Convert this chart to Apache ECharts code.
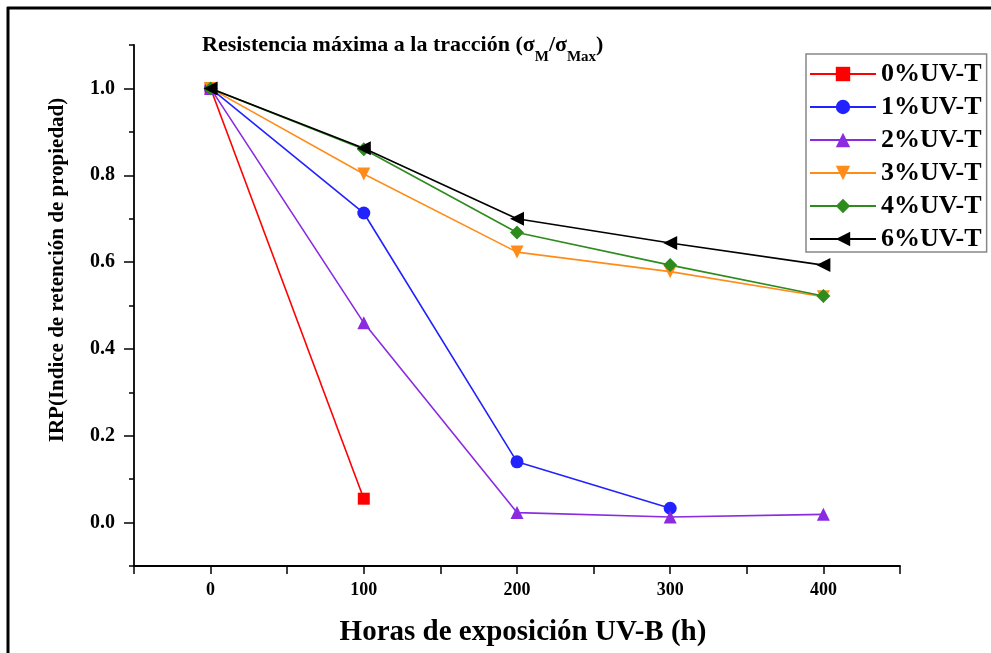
<!DOCTYPE html>
<html>
<head>
<meta charset="utf-8">
<script src="https://cdn.jsdelivr.net/npm/echarts@6/dist/echarts.min.js"></script>
<style>html,body{margin:0;padding:0;background:#fff;}#c{width:991px;height:653px;}</style>
</head>
<body>
<div id="c"></div>
<script>
var hours = [0, 100, 200, 300, 400];
var seriesNames = ['0%UV-T', '1%UV-T', '2%UV-T', '3%UV-T', '4%UV-T', '6%UV-T'];
var uv0 = [1.0, 0.055];
var uv1 = [1.0, 0.713, 0.140, 0.033];
var uv2 = [1.0, 0.460, 0.023, 0.013, 0.019];
var uv3 = [1.0, 0.803, 0.623, 0.578, 0.520];
var uv4 = [1.0, 0.860, 0.668, 0.593, 0.522];
var uv6 = [1.0, 0.862, 0.700, 0.644, 0.593];
var yTicks = [0.0, 0.2, 0.4, 0.6, 0.8, 1.0];
var yMinorTicks = [-0.1, 0.1, 0.3, 0.5, 0.7, 0.9, 1.1];
var xTicks = [0, 100, 200, 300, 400];

var allValues = [uv0, uv1, uv2, uv3, uv4, uv6];
var colors = ['#ff0000', '#2222ff', '#8a2be2', '#ff8c1a', '#2e8b1e', '#000000'];
var symbols = ['rect', 'circle', 'triangle', 'triangle', 'diamond', 'triangle'];
var rotates = [0, 0, 0, 180, 0, 90];
var sizes = [12, 13, 13, 13, 14, 14];

function pairs(vals) { return vals.map(function (v, i) { return [hours[i], v]; }); }

var FONT = '"Liberation Serif", "Times New Roman", serif';
var series = seriesNames.map(function (n, i) {
  return {
    name: n, type: 'line', data: pairs(allValues[i]),
    symbol: symbols[i], symbolSize: sizes[i], symbolRotate: rotates[i],
    lineStyle: { color: colors[i], width: 1.6 },
    itemStyle: { color: colors[i] },
    emphasis: { disabled: true }, animation: false
  };
});

var chart = echarts.init(document.getElementById('c'), null, { renderer: 'canvas' });
chart.setOption({
  animation: false,
  backgroundColor: '#ffffff',
  title: {
    text: 'Resistencia máxima a la tracción (σ{s|M}/σ{s|Max})',
    left: 197, top: 27,
    textStyle: {
      fontFamily: FONT, fontWeight: 'bold', fontSize: 22, color: '#000', lineHeight: 27,
      rich: { s: { fontFamily: FONT, fontWeight: 'bold', fontSize: 15, color: '#000', verticalAlign: 'bottom', lineHeight: 15, padding: [0, 0, -6, 0] } }
    }
  },
  legend: {
    orient: 'vertical', left: 806, top: 54,
    backgroundColor: '#fff', borderColor: '#888', borderWidth: 1.5,
    padding: [7, 5, 0, 3],
    itemWidth: 66, itemHeight: 18, itemGap: 7,
    textStyle: { fontFamily: FONT, fontWeight: 'bold', fontSize: 26, color: '#000', lineHeight: 23 },
    data: seriesNames
  },
  grid: { left: 134, top: 45, width: 766, height: 521, containLabel: false },
  xAxis: {
    type: 'value', min: -50, max: 450, interval: 50,
    name: 'Horas de exposición UV-B (h)', nameLocation: 'middle', nameGap: 52,
    nameTextStyle: { fontFamily: FONT, fontWeight: 'bold', fontSize: 29, color: '#000', padding: [0, 0, 0, 12] },
    axisLine: { onZero: false, lineStyle: { color: '#000', width: 1.8 } },
    axisTick: { inside: false, length: 8, lineStyle: { color: '#000', width: 1.5 } },
    axisLabel: {
      margin: 15, fontFamily: FONT, fontWeight: 'bold', fontSize: 18, color: '#000',
      formatter: function (v) { var r = Math.round(v); return xTicks.indexOf(r) >= 0 ? String(r) : ''; }
    },
    splitLine: { show: false }
  },
  yAxis: [{
    type: 'value', min: -0.1, max: 1.1, position: 'left',
    axisLine: { show: true, onZero: false, lineStyle: { color: '#000', width: 1.8 } },
    axisTick: { show: true, inside: false, length: 10, customValues: yTicks, lineStyle: { color: '#000', width: 1.5 } },
    axisLabel: {
      margin: 19, fontFamily: FONT, fontWeight: 'bold', fontSize: 20, color: '#000',
      customValues: yTicks,
      formatter: function (v) { return (Math.round(v * 10) / 10).toFixed(1); }
    },
    splitLine: { show: false }
  }, {
    type: 'value', min: -0.1, max: 1.1, position: 'left', offset: 0,
    axisLine: { show: false, onZero: false },
    axisTick: { show: true, inside: false, length: 5, customValues: yMinorTicks, lineStyle: { color: '#000', width: 1.5 } },
    axisLabel: { show: false },
    splitLine: { show: false }
  }],
  graphic: [
    { type: 'line', shape: { x1: 7, y1: 8, x2: 991, y2: 8 }, style: { stroke: '#000', lineWidth: 3 }, silent: true },
    { type: 'line', shape: { x1: 8, y1: 7, x2: 8, y2: 653 }, style: { stroke: '#000', lineWidth: 3 }, silent: true },
    { type: 'text', x: 58, y: 270, rotation: Math.PI / 2, silent: true,
      style: { text: 'IRP(Indice de retención de propiedad)', fill: '#000', font: 'bold 21px "Liberation Serif", serif', textAlign: 'center', textVerticalAlign: 'middle' } }
  ],
  series: series
});
</script>
</body>
</html>
